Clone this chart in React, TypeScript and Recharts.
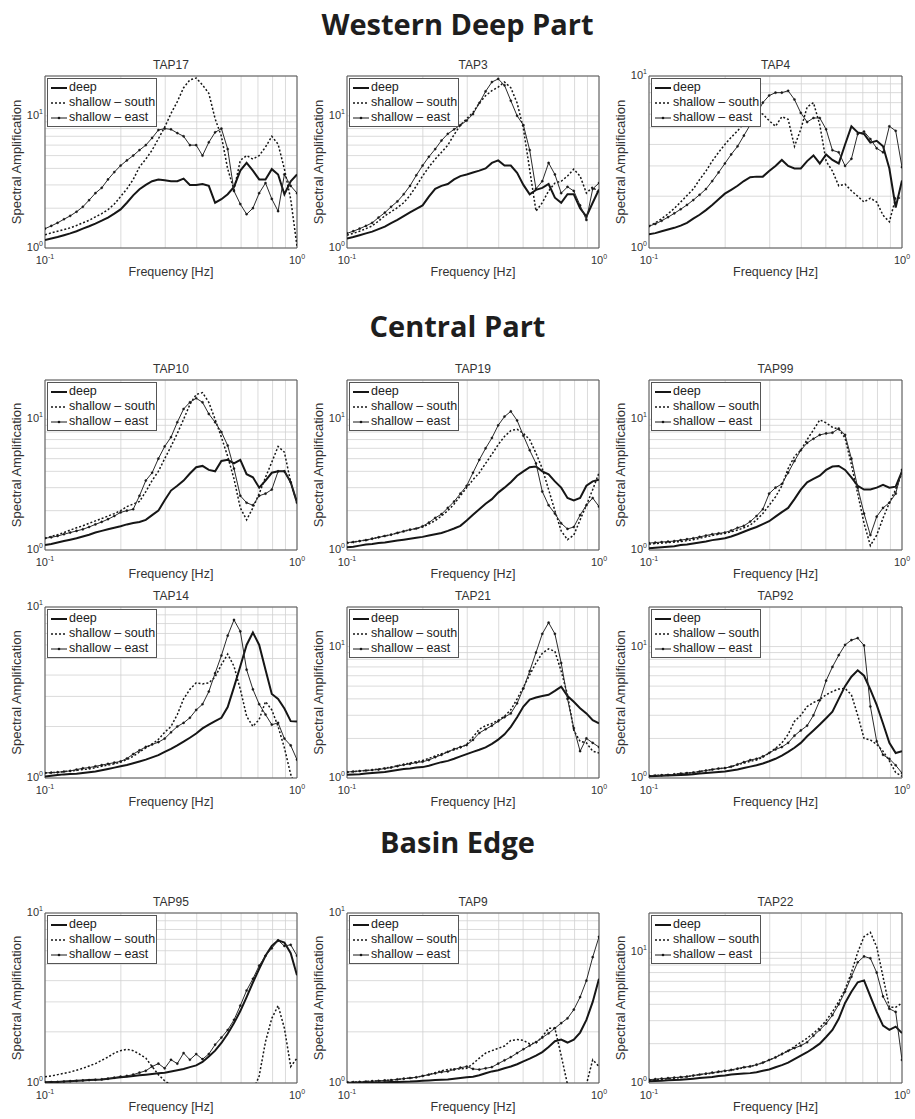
import React from 'react';
import { LineChart, Line, XAxis, YAxis, CartesianGrid, Legend, ReferenceArea, Label } from 'recharts';

// log-spaced frequency grid, 0.1 .. 1 Hz (40 steps per decade)
const FREQS = [
  0.1, 0.1059, 0.1122, 0.1189, 0.1259, 0.1334, 0.1413, 0.1496, 0.1585, 0.1679,
  0.1778, 0.1884, 0.1995, 0.2113, 0.2239, 0.2371, 0.2512, 0.2661, 0.2818, 0.2985,
  0.3162, 0.335, 0.3548, 0.3758, 0.3981, 0.4217, 0.4467, 0.4732, 0.5012, 0.5309,
  0.5623, 0.5957, 0.631, 0.6683, 0.7079, 0.7499, 0.7943, 0.8414, 0.8913, 0.9441, 1.0,
];

// Western deep part
const TAP17_DEEP = [1.15, 1.18, 1.21, 1.25, 1.29, 1.34, 1.4, 1.46, 1.53, 1.61, 1.7, 1.82, 1.96, 2.2, 2.5, 2.78, 3.0, 3.2, 3.3, 3.25, 3.2, 3.2, 3.35, 3.0, 3.0, 3.05, 2.95, 2.2, 2.34, 2.55, 2.9, 3.85, 4.4, 3.85, 3.3, 3.3, 3.95, 3.6, 2.55, 3.2, 3.6];
const TAP17_SOUTH = [1.26, 1.3, 1.34, 1.38, 1.42, 1.48, 1.55, 1.62, 1.72, 1.82, 1.95, 2.15, 2.45, 2.8, 3.3, 4.1, 4.7, 5.5, 6.7, 8.2, 10.4, 12.8, 16.3, 18.7, 19.3, 17.1, 14.8, 9.5, 7.0, 3.96, 2.76, 4.6, 5.0, 4.7, 5.0, 5.8, 7.0, 6.1, 3.96, 2.34, 1.03];
const TAP17_EAST = [1.4, 1.47, 1.55, 1.65, 1.75, 1.88, 2.05, 2.3, 2.6, 2.85, 3.3, 3.75, 4.2, 4.6, 5.0, 5.5, 6.0, 6.8, 7.8, 8.0, 7.9, 7.4, 7.0, 6.0, 6.0, 5.0, 6.3, 7.5, 8.0, 5.6, 2.7, 2.15, 1.8, 2.0, 2.6, 3.1, 2.35, 1.9, 3.6, 2.95, 2.6];

const TAP3_DEEP = [1.18, 1.21, 1.25, 1.29, 1.33, 1.39, 1.45, 1.54, 1.63, 1.74, 1.86, 1.98, 2.1, 2.45, 2.8, 2.95, 3.05, 3.3, 3.5, 3.6, 3.72, 3.85, 4.0, 4.4, 4.6, 4.2, 4.2, 3.7, 3.0, 2.55, 2.75, 2.85, 3.05, 2.4, 2.2, 2.55, 2.55, 2.0, 1.73, 2.2, 2.77];
const TAP3_SOUTH = [1.25, 1.29, 1.34, 1.4, 1.47, 1.6, 1.75, 1.88, 2.02, 2.2, 2.5, 2.95, 3.5, 4.1, 4.7, 5.3, 6.0, 7.2, 8.5, 9.5, 10.6, 12.5, 14.2, 15.5, 16.5, 18.0, 16.3, 12.5, 8.0, 3.9, 1.9, 2.2, 2.7, 3.1, 3.2, 3.5, 3.95, 3.5, 2.6, 2.9, 2.6];
const TAP3_EAST = [1.29, 1.34, 1.4, 1.47, 1.55, 1.7, 1.85, 2.05, 2.25, 2.55, 2.95, 3.55, 4.2, 4.9, 5.6, 6.5, 7.3, 7.9, 8.5, 9.2, 10.3, 12.5, 15.3, 18.0, 19.0, 17.0, 13.0, 10.0, 8.5, 5.5, 2.8, 3.2, 4.4, 3.6, 2.6, 2.9, 2.7, 2.1, 1.63, 2.8, 3.1];

const TAP4_DEEP = [1.2, 1.22, 1.25, 1.28, 1.31, 1.35, 1.4, 1.48, 1.56, 1.66, 1.78, 1.92, 2.07, 2.18, 2.3, 2.45, 2.58, 2.6, 2.6, 2.8, 3.0, 3.25, 3.0, 2.9, 2.9, 3.2, 3.45, 3.1, 3.5, 3.25, 3.1, 4.0, 5.1, 4.7, 4.6, 4.1, 4.2, 3.9, 2.9, 1.72, 2.47];
const TAP4_SOUTH = [1.34, 1.4, 1.48, 1.58, 1.7, 1.85, 2.02, 2.2, 2.5, 2.8, 3.2, 3.6, 4.0, 4.4, 4.8, 5.3, 5.6, 6.2, 6.0, 5.5, 5.1, 5.8, 5.6, 3.9, 4.9, 6.6, 7.0, 5.2, 3.2, 2.8, 2.3, 2.35, 2.15, 2.0, 1.85, 1.95, 1.85, 1.55, 1.42, 1.95, 1.95];
const TAP4_EAST = [1.34, 1.38, 1.44, 1.51, 1.59, 1.68, 1.78, 1.9, 2.04, 2.2, 2.45, 2.75, 3.1, 3.5, 3.9, 4.5, 5.2, 6.0, 7.0, 7.7, 8.0, 8.0, 8.2, 7.3, 6.1, 5.4, 5.7, 5.7, 4.9, 3.7, 3.6, 3.0, 3.3, 4.6, 4.75, 4.3, 3.8, 3.6, 5.1, 4.8, 2.95];

// Central part
const TAP10_DEEP = [1.09, 1.11, 1.14, 1.17, 1.2, 1.23, 1.27, 1.31, 1.36, 1.4, 1.44, 1.48, 1.52, 1.57, 1.61, 1.64, 1.7, 1.85, 2.0, 2.4, 2.85, 3.1, 3.4, 3.85, 4.3, 4.4, 4.1, 4.0, 4.8, 4.9, 4.6, 4.9, 3.8, 3.6, 3.0, 3.4, 3.9, 4.0, 4.0, 3.3, 2.3];
const TAP10_SOUTH = [1.23, 1.27, 1.31, 1.36, 1.42, 1.48, 1.53, 1.6, 1.67, 1.74, 1.82, 1.9, 2.0, 2.15, 2.25, 2.35, 2.8, 3.4, 4.0, 5.0, 6.2, 7.8, 10.0, 13.0, 15.5, 16.0, 13.5, 10.0, 7.3, 5.2, 3.5, 2.1, 1.7, 2.1, 2.7, 3.6, 4.7, 6.2, 5.6, 3.3, 2.3];
const TAP10_EAST = [1.23, 1.25, 1.28, 1.32, 1.36, 1.4, 1.44, 1.5, 1.57, 1.64, 1.72, 1.82, 1.94, 2.0, 2.05, 2.6, 3.4, 3.9, 5.0, 6.2, 7.3, 9.5, 12.0, 13.5, 14.5, 13.5, 11.0, 9.5, 8.0, 6.3, 4.2, 2.6, 2.3, 2.2, 2.6, 2.7, 2.9, 4.0, 4.0, 3.3, 2.3];

const TAP19_DEEP = [1.05, 1.06, 1.08, 1.1, 1.11, 1.13, 1.14, 1.16, 1.18, 1.2, 1.22, 1.24, 1.26, 1.29, 1.32, 1.35, 1.4, 1.46, 1.53, 1.68, 1.86, 2.05, 2.26, 2.45, 2.75, 3.0, 3.3, 3.7, 4.0, 4.3, 4.35, 4.0, 3.8, 3.35, 3.0, 2.5, 2.4, 2.5, 3.1, 3.35, 3.45];
const TAP19_SOUTH = [1.13, 1.15, 1.17, 1.19, 1.22, 1.25, 1.28, 1.31, 1.35, 1.39, 1.43, 1.46, 1.5, 1.58, 1.68, 1.82, 2.0, 2.25, 2.6, 3.0, 3.45, 3.9, 4.6, 5.4, 6.4, 7.4, 8.2, 8.4, 7.8, 7.0, 5.5, 4.2, 2.9, 2.0, 1.4, 1.2, 1.3, 1.7, 2.2, 2.9, 3.9];
const TAP19_EAST = [1.14, 1.15, 1.17, 1.19, 1.22, 1.25, 1.28, 1.31, 1.35, 1.39, 1.43, 1.46, 1.52, 1.62, 1.76, 1.88, 2.1, 2.35, 2.7, 3.1, 3.9, 4.9, 6.0, 7.2, 9.0, 10.5, 11.5, 9.8, 7.5, 5.8, 4.6, 2.8, 2.2, 1.9, 1.6, 1.45, 1.5, 1.85, 2.2, 2.5, 2.15];

const TAP99_DEEP = [1.03, 1.04, 1.05, 1.06, 1.07, 1.09, 1.1, 1.12, 1.14, 1.16, 1.19, 1.21, 1.23, 1.27, 1.32, 1.38, 1.44, 1.5, 1.58, 1.66, 1.8, 1.95, 2.1, 2.45, 2.9, 3.3, 3.5, 3.7, 4.1, 4.35, 4.4, 4.1, 3.6, 3.1, 2.9, 2.9, 3.0, 3.15, 3.0, 3.05, 4.0];
const TAP99_SOUTH = [1.11, 1.12, 1.13, 1.14, 1.15, 1.16, 1.18, 1.2, 1.23, 1.26, 1.29, 1.32, 1.34, 1.38, 1.42, 1.48, 1.55, 1.7, 1.9, 2.2, 2.55, 3.1, 4.2, 5.2, 5.8, 7.0, 8.3, 9.9, 9.4, 8.7, 8.4, 7.2, 4.5, 2.7, 1.6, 1.08, 1.3, 1.75, 2.3, 2.9, 3.9];
const TAP99_EAST = [1.13, 1.14, 1.15, 1.16, 1.17, 1.19, 1.21, 1.23, 1.26, 1.29, 1.32, 1.34, 1.36, 1.41, 1.48, 1.53, 1.65, 1.82, 2.05, 2.7, 3.0, 3.2, 3.9, 4.8, 5.8, 6.6, 7.1, 7.6, 7.8, 7.9, 8.5, 7.6, 5.0, 3.0, 1.9, 1.3, 1.8, 2.1, 2.3, 2.7, 4.1];

const TAP14_DEEP = [1.02, 1.03, 1.04, 1.05, 1.055, 1.06, 1.07, 1.08, 1.09, 1.11, 1.13, 1.15, 1.17, 1.19, 1.22, 1.25, 1.28, 1.32, 1.36, 1.42, 1.48, 1.55, 1.63, 1.72, 1.82, 1.95, 2.05, 2.15, 2.25, 2.6, 3.4, 4.5, 6.0, 7.1, 6.0, 4.3, 3.1, 2.9, 2.55, 2.15, 2.14];
const TAP14_SOUTH = [1.07, 1.075, 1.08, 1.09, 1.1, 1.11, 1.12, 1.13, 1.15, 1.17, 1.19, 1.21, 1.24, 1.28, 1.34, 1.42, 1.5, 1.58, 1.68, 1.85, 2.0, 2.35, 2.9, 3.3, 3.6, 3.55, 3.6, 3.9, 4.6, 5.3, 4.5, 3.3, 2.3, 2.0, 2.2, 2.8, 2.5, 2.0, 1.5, 1.05, 0.85];
const TAP14_EAST = [1.07, 1.075, 1.08, 1.09, 1.1, 1.12, 1.14, 1.15, 1.17, 1.19, 1.21, 1.23, 1.25, 1.3, 1.38, 1.45, 1.52, 1.57, 1.62, 1.7, 1.85, 2.0, 2.1, 2.25, 2.5, 2.7, 3.2, 4.1, 5.2, 6.8, 8.4, 7.2, 4.3, 3.3, 2.7, 2.35, 2.05, 2.1, 1.7, 1.55, 1.28];

const TAP21_DEEP = [1.06, 1.065, 1.07, 1.08, 1.09, 1.1, 1.11, 1.13, 1.15, 1.17, 1.18, 1.2, 1.21, 1.24, 1.28, 1.32, 1.35, 1.4, 1.46, 1.52, 1.58, 1.64, 1.71, 1.82, 1.96, 2.15, 2.45, 2.9, 3.5, 3.95, 4.1, 4.2, 4.3, 4.6, 4.95, 4.2, 3.8, 3.4, 3.1, 2.75, 2.6];
const TAP21_SOUTH = [1.11, 1.12, 1.13, 1.14, 1.15, 1.17, 1.19, 1.21, 1.24, 1.27, 1.3, 1.33, 1.36, 1.41, 1.47, 1.53, 1.58, 1.64, 1.7, 1.8, 2.05, 2.35, 2.5, 2.6, 2.75, 2.95, 3.3, 4.0, 4.9, 6.1, 7.5, 8.9, 9.6, 9.2, 6.5, 4.3, 2.3, 1.9, 1.85, 1.6, 1.55];
const TAP21_EAST = [1.11, 1.12, 1.13, 1.14, 1.15, 1.16, 1.18, 1.2, 1.23, 1.26, 1.28, 1.31, 1.33, 1.37, 1.44, 1.5, 1.58, 1.66, 1.72, 1.78, 1.95, 2.2, 2.35, 2.5, 2.7, 2.9, 3.1, 3.7, 4.8, 6.5, 9.0, 12.5, 15.2, 12.5, 7.5, 4.0, 2.4, 1.6, 2.0, 1.85, 1.72];

const TAP92_DEEP = [1.03, 1.035, 1.04, 1.045, 1.05, 1.055, 1.06, 1.07, 1.08, 1.09, 1.1, 1.11, 1.12, 1.14, 1.16, 1.19, 1.22, 1.25, 1.29, 1.34, 1.4, 1.48, 1.58, 1.7, 1.85, 2.08, 2.3, 2.55, 2.85, 3.2, 4.0, 5.0, 5.9, 6.6, 6.0, 4.7, 3.6, 2.6, 1.85, 1.55, 1.6];
const TAP92_SOUTH = [1.04, 1.045, 1.05, 1.055, 1.065, 1.08, 1.09, 1.1, 1.12, 1.14, 1.16, 1.18, 1.19, 1.22, 1.26, 1.3, 1.34, 1.37, 1.44, 1.55, 1.68, 1.85, 2.15, 2.7, 3.0, 3.5, 3.75, 3.95, 4.3, 4.55, 4.75, 4.8, 4.3, 3.0, 2.0, 1.95, 1.8, 1.6, 1.35, 1.1, 1.03];
const TAP92_EAST = [1.04, 1.045, 1.05, 1.055, 1.065, 1.08, 1.09, 1.1, 1.12, 1.14, 1.16, 1.18, 1.19, 1.22, 1.27, 1.32, 1.37, 1.4, 1.46, 1.55, 1.65, 1.72, 1.85, 2.1, 2.3, 2.5, 3.0, 3.9, 5.5, 7.0, 8.6, 10.3, 11.2, 11.6, 10.2, 3.5, 1.9, 1.5, 1.4, 1.25, 1.09];

// Basin edge
const TAP95_DEEP = [1.01, 1.012, 1.015, 1.02, 1.025, 1.03, 1.035, 1.04, 1.045, 1.05, 1.06, 1.07, 1.08, 1.09, 1.1, 1.11, 1.12, 1.13, 1.14, 1.15, 1.17, 1.19, 1.21, 1.24, 1.27, 1.33, 1.43, 1.55, 1.72, 1.95, 2.25, 2.65, 3.2, 3.9, 4.7, 5.6, 6.4, 6.9, 6.7, 5.8, 4.3];
const TAP95_SOUTH = [1.09, 1.1, 1.12, 1.14, 1.16, 1.19, 1.22, 1.26, 1.3, 1.36, 1.42, 1.5, 1.55, 1.58, 1.55, 1.48, 1.4, 1.25, 1.12, 1.03, 0.97, 0.92, 0.9, 0.85, 0.8, 0.75, 0.7, 0.7, 0.7, 0.7, 0.75, 0.8, 0.85, 0.9, 1.1, 1.75, 2.4, 2.85, 2.1, 1.25, 1.4];
const TAP95_EAST = [1.01, 1.012, 1.015, 1.02, 1.025, 1.03, 1.035, 1.04, 1.045, 1.05, 1.06, 1.075, 1.09, 1.1, 1.12, 1.15, 1.18, 1.25, 1.3, 1.22, 1.37, 1.3, 1.5, 1.37, 1.48, 1.38, 1.48, 1.68, 1.85, 2.05, 2.35, 2.85, 3.5, 4.1, 4.9, 5.6, 6.2, 6.9, 6.4, 6.5, 5.6];

const TAP9_DEEP = [1.0, 1.0, 1.002, 1.004, 1.006, 1.008, 1.01, 1.012, 1.015, 1.018, 1.02, 1.025, 1.03, 1.035, 1.04, 1.045, 1.05, 1.06, 1.07, 1.08, 1.09, 1.11, 1.14, 1.17, 1.19, 1.22, 1.25, 1.29, 1.34, 1.39, 1.45, 1.52, 1.63, 1.76, 1.8, 1.73, 1.8, 1.98, 2.35, 3.0, 4.1];
const TAP9_SOUTH = [1.01, 1.012, 1.015, 1.02, 1.025, 1.03, 1.035, 1.04, 1.05, 1.06, 1.07, 1.08, 1.1, 1.12, 1.15, 1.18, 1.2, 1.21, 1.21, 1.22, 1.3, 1.4, 1.5, 1.55, 1.6, 1.65, 1.78, 1.8, 1.78, 1.7, 1.72, 1.87, 2.1, 2.1, 1.45, 0.98, 0.8, 0.75, 0.98, 1.37, 1.25];
const TAP9_EAST = [1.01, 1.012, 1.015, 1.02, 1.025, 1.03, 1.035, 1.04, 1.05, 1.06, 1.07, 1.08, 1.1, 1.12, 1.14, 1.16, 1.17, 1.2, 1.23, 1.25, 1.21, 1.2, 1.22, 1.24, 1.3, 1.36, 1.42, 1.5, 1.58, 1.66, 1.74, 1.85, 1.96, 2.1, 2.25, 2.4, 2.7, 3.2, 4.0, 5.5, 7.24];

const TAP22_DEEP = [1.03, 1.035, 1.04, 1.05, 1.055, 1.06, 1.07, 1.08, 1.09, 1.1, 1.11, 1.13, 1.14, 1.16, 1.17, 1.18, 1.19, 1.21, 1.24, 1.27, 1.32, 1.37, 1.43, 1.52, 1.62, 1.72, 1.85, 2.0, 2.25, 2.55, 3.1, 4.1, 5.0, 5.9, 6.1, 4.6, 3.5, 2.75, 2.55, 2.7, 2.41];
const TAP22_SOUTH = [1.05, 1.06, 1.07, 1.08, 1.09, 1.1, 1.12, 1.14, 1.16, 1.17, 1.19, 1.21, 1.23, 1.25, 1.28, 1.31, 1.34, 1.38, 1.43, 1.5, 1.57, 1.68, 1.76, 1.9, 2.05, 2.2, 2.4, 2.65, 3.0, 3.5, 4.2, 5.2, 7.0, 10.0, 13.2, 14.2, 11.0, 6.5, 3.8, 3.8, 4.1];
const TAP22_EAST = [1.06, 1.07, 1.08, 1.09, 1.1, 1.11, 1.12, 1.14, 1.16, 1.18, 1.2, 1.22, 1.24, 1.26, 1.29, 1.32, 1.34, 1.38, 1.43, 1.5, 1.57, 1.66, 1.76, 1.85, 1.93, 2.05, 2.3, 2.55, 2.85, 3.3, 4.0, 5.0, 6.5, 8.4, 9.3, 9.0, 7.0, 4.6, 3.7, 3.5, 1.5];

const X_TICKS = [0.1, 0.2, 0.3, 0.4, 0.5, 0.6, 0.7, 0.8, 0.9, 1];
const Y_TICKS_10 = [1, 2, 3, 4, 5, 6, 7, 8, 9, 10];
const Y_TICKS_20 = [1, 2, 3, 4, 5, 6, 7, 8, 9, 10, 20];
const LEGEND_ORDER = ['deep', 'south', 'east'];

const SECTIONS = [
  { title: 'Western Deep Part', top: 9 },
  { title: 'Central Part', top: 311 },
  { title: 'Basin Edge', top: 827 },
];

const PANELS = [
  { name: 'TAP17', row: 0, col: 0, yMax: 20, deep: TAP17_DEEP, south: TAP17_SOUTH, east: TAP17_EAST },
  { name: 'TAP3', row: 0, col: 1, yMax: 20, deep: TAP3_DEEP, south: TAP3_SOUTH, east: TAP3_EAST },
  { name: 'TAP4', row: 0, col: 2, yMax: 10, deep: TAP4_DEEP, south: TAP4_SOUTH, east: TAP4_EAST },
  { name: 'TAP10', row: 1, col: 0, yMax: 20, deep: TAP10_DEEP, south: TAP10_SOUTH, east: TAP10_EAST },
  { name: 'TAP19', row: 1, col: 1, yMax: 20, deep: TAP19_DEEP, south: TAP19_SOUTH, east: TAP19_EAST },
  { name: 'TAP99', row: 1, col: 2, yMax: 20, deep: TAP99_DEEP, south: TAP99_SOUTH, east: TAP99_EAST },
  { name: 'TAP14', row: 2, col: 0, yMax: 10, deep: TAP14_DEEP, south: TAP14_SOUTH, east: TAP14_EAST },
  { name: 'TAP21', row: 2, col: 1, yMax: 20, deep: TAP21_DEEP, south: TAP21_SOUTH, east: TAP21_EAST },
  { name: 'TAP92', row: 2, col: 2, yMax: 20, deep: TAP92_DEEP, south: TAP92_SOUTH, east: TAP92_EAST },
  { name: 'TAP95', row: 3, col: 0, yMax: 10, deep: TAP95_DEEP, south: TAP95_SOUTH, east: TAP95_EAST },
  { name: 'TAP9', row: 3, col: 1, yMax: 10, deep: TAP9_DEEP, south: TAP9_SOUTH, east: TAP9_EAST },
  { name: 'TAP22', row: 3, col: 2, yMax: 20, deep: TAP22_DEEP, south: TAP22_SOUTH, east: TAP22_EAST },
];

const COL_LEFT = [45, 347, 649];
const COL_WIDTH = [252, 252, 253];
const ROW_TOP = [76, 380, 607, 913];
const ROW_HEIGHT = [172, 170, 171, 170];

const FONT = '"Liberation Sans", Arial, Helvetica, sans-serif';
const INK = '#161616';
const TEXT = '#333';

const LEFT = 45; // margin + y axis width
const TOP = 22;
const RIGHT = 12;
const BOTTOM = 36;

const XTick = (props: any) => {
  const { x, y, payload } = props;
  if (payload.value !== 0.1 && payload.value !== 1) return null;
  return (
    <text x={x} y={y + 16} textAnchor="middle" fontSize={11} fill={TEXT} fontFamily={FONT}>
      <tspan>10</tspan>
      <tspan dy={-5} fontSize={7}>{payload.value === 1 ? '0' : '-1'}</tspan>
    </text>
  );
};

const YTick = (props: any) => {
  const { x, y, payload } = props;
  if (payload.value !== 1 && payload.value !== 10) return null;
  return (
    <text x={x - 2} y={y + 3} textAnchor="end" fontSize={11} fill={TEXT} fontFamily={FONT}>
      <tspan>10</tspan>
      <tspan dy={-5} fontSize={7}>{payload.value === 10 ? '1' : '0'}</tspan>
    </text>
  );
};

const xLabel = (props: any) => {
  const vb = props.viewBox;
  return (
    <text x={vb.x + vb.width / 2} y={vb.y + 28} textAnchor="middle" fontSize={12.5} fill={TEXT} fontFamily={FONT}>
      Frequency [Hz]
    </text>
  );
};

const yLabel = (props: any) => {
  const vb = props.viewBox;
  const cx = vb.x + 11;
  const cy = vb.y + vb.height / 2;
  return (
    <text x={cx} y={cy} transform={`rotate(-90 ${cx} ${cy})`} textAnchor="middle" dominantBaseline="central"
      fontSize={13} fill={TEXT} fontFamily={FONT}>
      Spectral Amplification
    </text>
  );
};

const sample = (key: string) => {
  if (key === 'deep') return <line x1={0} y1={4} x2={16} y2={4} stroke={INK} strokeWidth={2} />;
  if (key === 'south') return <line x1={0} y1={4} x2={16} y2={4} stroke={INK} strokeWidth={1.5} strokeDasharray="2 2" />;
  return (
    <g>
      <line x1={0} y1={4} x2={16} y2={4} stroke={INK} strokeWidth={1} />
      <circle cx={8} cy={4} r={1.3} fill={INK} />
    </g>
  );
};

const LegendBox = (props: any) => {
  const items = [...(props.payload || [])].sort(
    (a: any, b: any) => LEGEND_ORDER.indexOf(a.dataKey) - LEGEND_ORDER.indexOf(b.dataKey),
  );
  return (
    <div style={{ display: 'inline-block', border: '1px solid #555', background: '#fff', padding: '1px 1px 1px 3px',
      fontFamily: FONT, fontSize: 12.5, lineHeight: '15px', color: '#222', whiteSpace: 'nowrap' }}>
      {items.map((it: any) => (
        <div key={it.dataKey} style={{ display: 'flex', alignItems: 'center' }}>
          <svg width={17} height={8} style={{ marginRight: 1, flex: 'none' }}>{sample(it.dataKey)}</svg>
          <span>{it.value}</span>
        </div>
      ))}
    </div>
  );
};

const Panel = ({ p }: { p: any }) => {
  const pl = COL_LEFT[p.col];
  const pt = ROW_TOP[p.row];
  const pw = COL_WIDTH[p.col];
  const ph = ROW_HEIGHT[p.row];
  const data = FREQS.map((f, i) => ({ f, deep: p.deep[i], south: p.south[i], east: p.east[i] }));
  return (
    <div style={{ position: 'absolute', left: pl - LEFT, top: pt - TOP, width: pw + LEFT + RIGHT, height: ph + TOP + BOTTOM }}>
      <div style={{ position: 'absolute', left: LEFT, top: 4, width: pw, textAlign: 'center', fontFamily: FONT,
        fontSize: 12, lineHeight: '14px', color: TEXT }}>
        {p.name}
      </div>
      <LineChart width={pw + LEFT + RIGHT} height={ph + TOP + BOTTOM} data={data}
        margin={{ top: TOP, right: RIGHT, bottom: 4, left: 5 }}>
        <CartesianGrid stroke="#d2d2d2" strokeWidth={0.8} />
        <XAxis dataKey="f" type="number" scale="log" domain={[0.1, 1]} allowDataOverflow ticks={X_TICKS} interval={0}
          height={32} tickSize={0} tickMargin={0} axisLine={false} tickLine={false} tick={<XTick />}>
          <Label content={xLabel} />
        </XAxis>
        <YAxis type="number" scale="log" domain={[1, p.yMax]} allowDataOverflow
          ticks={p.yMax === 10 ? Y_TICKS_10 : Y_TICKS_20} interval={0} width={40} tickSize={0} tickMargin={0}
          axisLine={false} tickLine={false} tick={<YTick />}>
          <Label content={yLabel} />
        </YAxis>
        <ReferenceArea x1={0.1} x2={1} y1={1} y2={p.yMax} fill="none" stroke="#555" strokeWidth={1} />
        <Line dataKey="deep" name="deep" type="linear" stroke={INK} strokeWidth={2} dot={false} isAnimationActive={false} />
        <Line dataKey="south" name="shallow – south" type="linear" stroke={INK} strokeWidth={1.5} strokeDasharray="2 2"
          dot={false} isAnimationActive={false} />
        <Line dataKey="east" name="shallow – east" type="linear" stroke="#2a2a2a" strokeWidth={1}
          dot={{ r: 1.1, fill: INK, stroke: INK, strokeWidth: 0.4 }} isAnimationActive={false} />
        <Legend layout="vertical" align="center" verticalAlign="middle" content={<LegendBox />}
          wrapperStyle={{ left: LEFT + 2, top: TOP + 2, width: 'auto', height: 'auto' }} />
      </LineChart>
    </div>
  );
};

export default function App() {
  return (
    <div style={{ position: 'absolute', left: 0, top: 0, width: 915, height: 1119, background: '#fff', overflow: 'hidden' }}>
      {SECTIONS.map(s => (
        <div key={s.title} style={{ position: 'absolute', left: 0, top: s.top, width: 915, textAlign: 'center',
          fontFamily: '"Open Sans", sans-serif', fontWeight: 700, fontSize: 29, lineHeight: '29px', color: '#1e1e1e' }}>
          {s.title}
        </div>
      ))}
      {PANELS.map(p => <Panel key={p.name} p={p} />)}
    </div>
  );
}
